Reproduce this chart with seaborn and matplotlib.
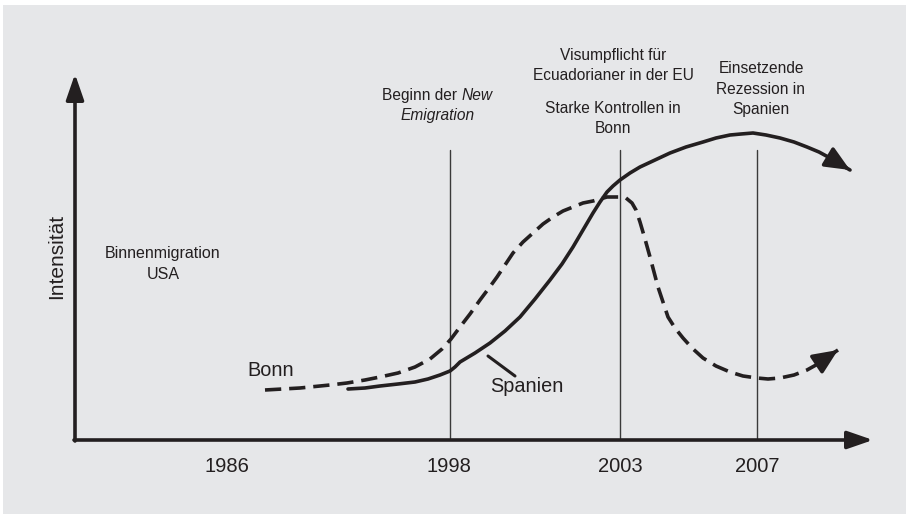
import pandas as pd
import matplotlib.pyplot as plt
import seaborn as sns

YEAR_LABELS = ["1986", "1998", "2003", "2007"]
YEAR_POS = [227, 449, 620, 757]
EVENT_POS = [450, 620, 757]

BONN_X = [265, 300, 330, 347, 365, 380, 398, 415, 430, 442, 451, 460, 470, 480, 489, 497,
          505, 513, 523, 533, 543, 553, 563, 573, 583, 593, 600, 607, 614, 620, 626, 632,
          636, 640, 645, 650, 654, 658, 663, 668, 675, 683, 692, 703, 716, 730, 743, 757,
          768, 780, 794, 807, 816, 823, 838]
BONN_Y = [390, 388, 385, 383, 380, 377, 373, 367, 359, 349, 339, 327, 314, 300, 288, 277,
          265, 253, 242, 233, 224, 217, 211, 207, 203, 201, 199, 197, 197, 197, 198, 203,
          210, 222, 239, 257, 272, 287, 302, 317, 328, 338, 348, 358, 366, 372, 376, 378,
          379, 378, 375, 370, 365, 360, 350]

SPANIEN_X = [348, 365, 380, 398, 415, 428, 440, 450, 455, 460, 475, 490, 505, 520, 535, 550,
             562, 573, 583, 593, 600, 607, 613, 620, 630, 640, 655, 670, 686, 703, 716, 730,
             741, 753, 766, 780, 794, 807, 819, 830, 850]
SPANIEN_Y = [389, 388, 386, 384, 382, 379, 375, 371, 367, 362, 353, 343, 331, 317, 299, 280,
             264, 247, 230, 213, 202, 192, 186, 180, 173, 167, 160, 153, 147, 142, 138, 135,
             134, 133, 135, 138, 142, 147, 152, 158, 170]

BG = "#e6e7e9"
INK = "#231f20"

sns.set_theme(style="white")
plt.rcParams["font.family"] = ["Liberation Sans", "DejaVu Sans"]

fig = plt.figure(figsize=(9.06, 5.15), dpi=100)
fig.patch.set_facecolor("white")
ax = fig.add_axes([3 / 906, 1 / 515, 903 / 906, 509 / 515])
ax.set_facecolor(BG)
ax.set_xlim(3, 906)
ax.set_ylim(514, 5)
ax.axis("off")
ax.add_patch(plt.Rectangle((3, 5), 903, 509, color=BG, zorder=0))

df = pd.concat([
    pd.DataFrame({"x": BONN_X, "y": BONN_Y, "serie": "Bonn"}),
    pd.DataFrame({"x": SPANIEN_X, "y": SPANIEN_Y, "serie": "Spanien"}),
])
sns.lineplot(data=df, x="x", y="y", hue="serie", style="serie", sort=False, estimator=None,
             palette={"Bonn": INK, "Spanien": INK}, dashes={"Bonn": (4.5, 2.2), "Spanien": ""},
             lw=2.6, legend=False, ax=ax, zorder=3,
             solid_joinstyle="round", dash_joinstyle="round")

# arrow heads at the curve ends
for xs, ys in [(BONN_X, BONN_Y), (SPANIEN_X, SPANIEN_Y)]:
    ax.annotate("", xy=(xs[-1], ys[-1]), xytext=(xs[-2], ys[-2]),
                arrowprops=dict(arrowstyle="-|>,head_length=1.25,head_width=0.55",
                                color=INK, lw=2.6, shrinkA=0, shrinkB=0), zorder=4)

# axes with arrows
ax.annotate("", xy=(75, 74), xytext=(75, 441),
            arrowprops=dict(arrowstyle="-|>,head_length=1.3,head_width=0.45", color=INK, lw=2.6,
                            shrinkA=0, shrinkB=0))
ax.annotate("", xy=(873, 440), xytext=(74, 440),
            arrowprops=dict(arrowstyle="-|>,head_length=1.3,head_width=0.45", color=INK, lw=2.6,
                            shrinkA=0, shrinkB=0))

for xp in EVENT_POS:
    ax.plot([xp, xp], [150, 438], color="#3a3a3a", lw=1.0, zorder=2)

for lab, xp in zip(YEAR_LABELS, YEAR_POS):
    ax.text(xp, 466, lab, ha="center", va="center", fontsize=14.5, color=INK)

ax.text(57, 256, "Intensität", rotation=90, ha="center", va="center", fontsize=15, color=INK)
ax.text(163, 264, "Binnenmigration\nUSA", ha="center", va="center", fontsize=11.5,
        color=INK, linespacing=1.5)

ax.text(457, 95, "Beginn der", ha="right", va="center", fontsize=11.2, color=INK)
ax.text(462, 95, "New", ha="left", va="center", fontsize=11.2, color=INK, style="italic")
ax.text(438, 115, "Emigration", ha="center", va="center", fontsize=11.2, color=INK, style="italic")

ax.text(613, 65.5, "Visumpflicht für\nEcuadorianer in der EU", ha="center", va="center",
        fontsize=11.2, color=INK, linespacing=1.45)
ax.text(613, 118.5, "Starke Kontrollen in\nBonn", ha="center", va="center",
        fontsize=11.2, color=INK, linespacing=1.4)
ax.text(761, 89, "Einsetzende\nRezession in\nSpanien", ha="center", va="center",
        fontsize=11.2, color=INK, linespacing=1.45)

ax.text(271, 370, "Bonn", ha="center", va="center", fontsize=14.3, color=INK)
ax.text(527, 386, "Spanien", ha="center", va="center", fontsize=14.3, color=INK)
ax.plot([488, 515], [356, 376], color=INK, lw=2.2)

fig.savefig("out.png", dpi=100, facecolor="white")
